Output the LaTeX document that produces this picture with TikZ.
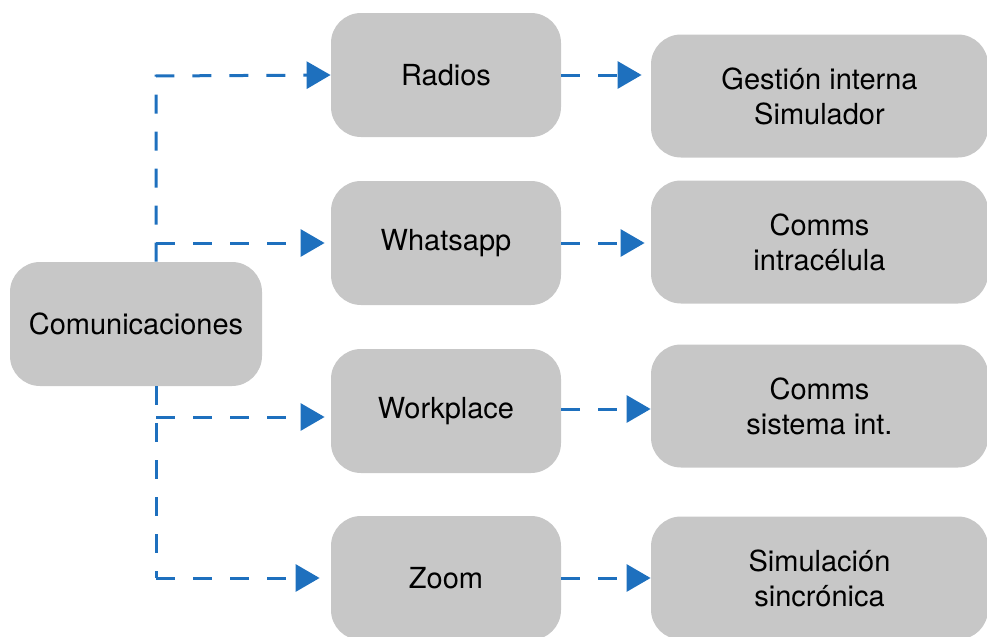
\documentclass[tikz,border=0pt]{standalone}
\usepackage{fontspec}
\setmainfont{TeX Gyre Heros}
\usetikzlibrary{arrows.meta}
\definecolor{boxgray}{RGB}{199,199,199}
\definecolor{linkblue}{RGB}{30,112,190}
\tikzset{
  box/.style={fill=boxgray, rounded corners=15pt, minimum height=62pt, inner sep=0pt, align=center, font=\fontsize{14.5}{17.5}\selectfont},
  midbox/.style={box, minimum width=115pt},
  outbox/.style={box, minimum width=168.5pt, minimum height=61.5pt},
  link/.style={linkblue, line width=1.5pt, dash pattern=on 9.5pt off 9pt, -{Triangle[length=12pt, width=13.5pt]}},
  trunk/.style={linkblue, line width=1.5pt, dash pattern=on 9.5pt off 9pt}
}
\begin{document}
\begin{tikzpicture}[x=0.5pt, y=-0.5pt]
\useasboundingbox (0,0) rectangle (987,637);

\node [box, minimum width=126pt] (Com) at (136,324) {Comunicaciones};

\node [midbox] (Radios) at (446,75) {Radios};
\node [midbox] (Whatsapp) at (446,243) {Whatsapp};
\node [midbox] (Workplace) at (446,411) {Workplace};
\node [midbox] (Zoom) at (446,578) {Zoom};

\node [outbox] (Gestion) at (819.5,96) {Gestión interna\\Simulador};
\node [outbox] (Intra) at (819.5,242) {Comms\\intracélula};
\node [outbox] (Sistema) at (819.5,406) {Comms\\sistema int.};
\node [outbox] (Sincro) at (819.5,578) {Simulación\\sincrónica};

\coordinate (up) at (156,76);
\coordinate (down) at (156,417);
\coordinate (low) at (156,578);

% branches from Comunicaciones
\draw [link] (Com.north -| up) -- (up) -- (Radios.west);
\draw [link, shorten >=3pt] (Whatsapp.west -| up) -- (Whatsapp.west);
\draw [trunk] (Com.south -| down) -- (low);
\draw [link, shorten >=3pt] (down) -- (down -| Workplace.west);
\draw [link, shorten >=5.5pt] (low) -- (Zoom.west);

% second level
\draw [link, shorten >=4.5pt] (Radios.east) -- (Radios.east -| Gestion.west);
\draw [link, shorten >=3pt] (Whatsapp.east) -- (Whatsapp.east -| Intra.west);
\draw [link] ([yshift=1pt]Workplace.east) -- ([yshift=1pt]Workplace.east -| Sistema.west);
\draw [link] (Zoom.east) -- (Sincro.west);
\end{tikzpicture}
\end{document}
